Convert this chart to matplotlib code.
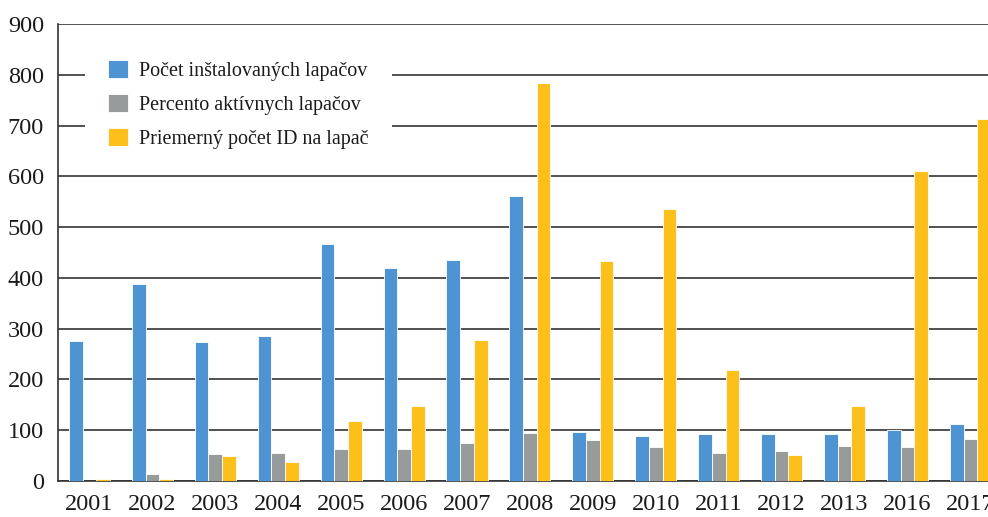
import numpy as np
import matplotlib.pyplot as plt

years = ['2001', '2002', '2003', '2004', '2005', '2006', '2007', '2008',
         '2009', '2010', '2011', '2012', '2013', '2016', '2017']
installed = [276, 388, 274, 286, 467, 420, 436, 562, 97, 89, 92, 92, 92, 100, 112]
active_pct = [0, 14, 54, 55, 63, 63, 75, 94, 80, 66, 55, 59, 68, 66, 83]
avg_id = [3, 3, 50, 37, 119, 147, 277, 783, 434, 535, 219, 51, 148, 611, 713]

labels = ['Počet inštalovaných lapačov', 'Percento aktívnych lapačov',
          'Priemerný počet ID na lapač']
colors = ['#4e94d3', '#979b9b', '#fdbf1a']

plt.rcParams['font.family'] = ['Liberation Serif', 'DejaVu Serif']

W, H = 988, 517
fig = plt.figure(figsize=(W / 100, H / 100), dpi=100)
ax = fig.add_axes([58 / W, 1 - 481 / H, 1 - 58 / W, (481 - 24) / H])

x = np.arange(len(years))
bw = 0.218
for k, (vals, c, lab) in enumerate(zip([installed, active_pct, avg_id], colors, labels)):
    ax.bar(x + (k - 1) * bw, vals, width=bw, color=c, label=lab,
           edgecolor='white', linewidth=0.6, zorder=3)

ax.set_ylim(0, 900)
ax.set_yticks(range(0, 901, 100))
ax.set_xlim(-0.5, 14.28)
ax.set_xticks(x)
ax.set_xticklabels(years)
ax.yaxis.grid(True, color='#333333', linewidth=1.2)
ax.set_axisbelow(True)
ax.tick_params(axis='both', length=0, labelsize=17.5, colors='#1a1a1a')
ax.tick_params(axis='y', pad=10)
ax.tick_params(axis='x', pad=9)
for s in ['top', 'right']:
    ax.spines[s].set_visible(False)
ax.spines['left'].set_color('#333333')
ax.spines['bottom'].set_color('#333333')
ax.spines['left'].set_linewidth(1.2)
ax.spines['bottom'].set_linewidth(1.2)

leg = ax.legend(loc='upper left', bbox_to_anchor=(85 / W, 1 - 37 / H),
                bbox_transform=fig.transFigure, fontsize=14.5, frameon=True,
                fancybox=False, borderpad=1.15, borderaxespad=0,
                handlelength=1.0, handleheight=1.0, handletextpad=0.55,
                labelspacing=0.65)
leg.get_frame().set_facecolor('white')
leg.get_frame().set_edgecolor('none')
leg.get_frame().set_alpha(1)
for t in leg.get_texts():
    t.set_color('#1a1a1a')

fig.savefig('out.png', dpi=100)
